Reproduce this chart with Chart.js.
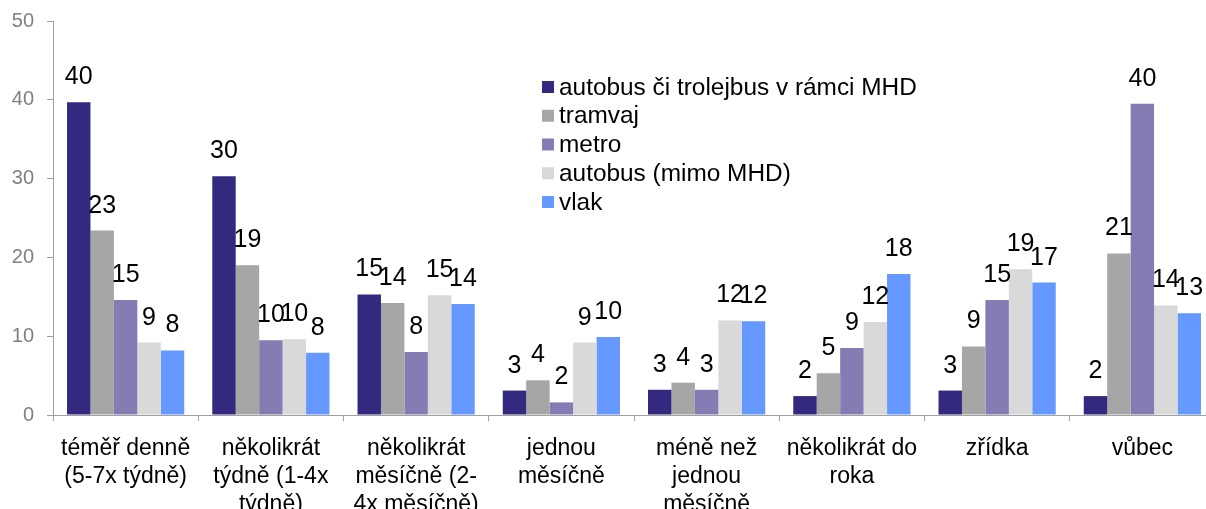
<!DOCTYPE html>
<html>
<head>
<meta charset="utf-8">
<script src="https://cdn.jsdelivr.net/npm/chart.js@4.4.1/dist/chart.umd.min.js"></script>
<style>
  html, body { margin: 0; padding: 0; background: #ffffff; overflow: hidden; }
  #wrap { width: 1215px; height: 513px; margin-top: -4px; position: relative; }
</style>
</head>
<body>
<div id="wrap"><canvas id="myChart"></canvas></div>
<script>
var categories = [
    ['téměř denně', '(5-7x týdně)'],
    ['několikrát', 'týdně (1-4x', 'týdně)'],
    ['několikrát', 'měsíčně (2-', '4x měsíčně)'],
    ['jednou', 'měsíčně'],
    ['méně než', 'jednou', 'měsíčně'],
    ['několikrát do', 'roka'],
    ['zřídka'],
    ['vůbec']
];
var seriesNames = ['autobus či trolejbus v rámci MHD', 'tramvaj', 'metro', 'autobus (mimo MHD)', 'vlak'];
var autobusMhd = [39.7, 30.3, 15.3, 3.1, 3.2, 2.4, 3.1, 2.4];
var tramvaj = [23.4, 19.0, 14.2, 4.4, 4.1, 5.3, 8.7, 20.5];
var metro = [14.6, 9.5, 8.0, 1.6, 3.2, 8.5, 14.6, 39.5];
var autobusMimo = [9.2, 9.6, 15.2, 9.2, 12.0, 11.8, 18.5, 13.9];
var vlak = [8.2, 7.9, 14.1, 9.9, 11.9, 17.9, 16.8, 12.9];
var yTicks = [0, 10, 20, 30, 40, 50];

var colors = ['#33297f', '#a6a6a6', '#837db3', '#d9d9d9', '#6699ff'];
var font = '"Liberation Sans", Arial, sans-serif';

// data labels above the bars (rounded like in the source)
const barLabels = {
    id: 'barLabels',
    afterDatasetsDraw(chart) {
        const c = chart.ctx;
        c.save();
        c.font = '25px ' + font;
        c.fillStyle = '#000000';
        c.textAlign = 'center';
        c.textBaseline = 'alphabetic';
        chart.data.datasets.forEach(function(ds, i) {
            chart.getDatasetMeta(i).data.forEach(function(bar, j) {
                c.fillText(Math.round(ds.data[j]), bar.x, bar.y - 18);
            });
        });
        c.restore();
    }
};

// legend drawn inside the plot, top middle
const sideLegend = {
    id: 'sideLegend',
    afterDraw(chart) {
        const c = chart.ctx;
        const top = chart.chartArea.top;
        const left = chart.chartArea.left;
        c.save();
        c.font = '24.4px ' + font;
        c.textBaseline = 'middle';
        c.textAlign = 'left';
        chart.data.datasets.forEach(function(ds, i) {
            var y = top + 66 + i * 28.75;
            c.fillStyle = ds.backgroundColor;
            c.fillRect(left + 489, y - 6, 12, 12);
            c.fillStyle = '#000000';
            c.fillText(ds.label, left + 506, y + 1);
        });
        c.restore();
    }
};

const ctx = document.getElementById('myChart');

let chart = new Chart(ctx, {
    type: 'bar',
    data: {
        labels: categories,
        datasets: [autobusMhd, tramvaj, metro, autobusMimo, vlak].map(function(d, i) {
            return {
                label: seriesNames[i],
                data: d,
                backgroundColor: colors[i],
                borderWidth: 0,
                categoryPercentage: 0.807,
                barPercentage: 1.0
            };
        })
    },
    options: {
        responsive: true,
        maintainAspectRatio: false,
        animation: false,
        layout: { padding: { top: 12, right: 0, left: 0, bottom: 0 } },
        plugins: {
            legend: { display: false },
            tooltip: { enabled: false }
        },
        scales: {
            x: {
                grid: {
                    offset: true,
                    drawOnChartArea: false,
                    drawTicks: true,
                    tickLength: 6,
                    color: '#a0a0a0'
                },
                border: { color: '#a0a0a0', width: 1 },
                ticks: {
                    color: '#000000',
                    font: { family: font, size: 23, lineHeight: 1.22 },
                    padding: 14,
                    maxRotation: 0,
                    autoSkip: false
                },
                afterFit: function(scale) { scale.height = 94; }
            },
            y: {
                min: 0,
                max: 50,
                afterBuildTicks: function(scale) {
                    scale.ticks = yTicks.map(function(v) { return { value: v }; });
                },
                grid: {
                    drawOnChartArea: false,
                    drawTicks: true,
                    tickLength: 6,
                    color: '#a0a0a0'
                },
                border: { color: '#a0a0a0', width: 1 },
                ticks: {
                    color: '#808080',
                    font: { family: font, size: 20 },
                    padding: 13
                },
                afterFit: function(scale) { scale.width = 53; }
            }
        }
    },
    plugins: [barLabels, sideLegend]
});
</script>
</body>
</html>
